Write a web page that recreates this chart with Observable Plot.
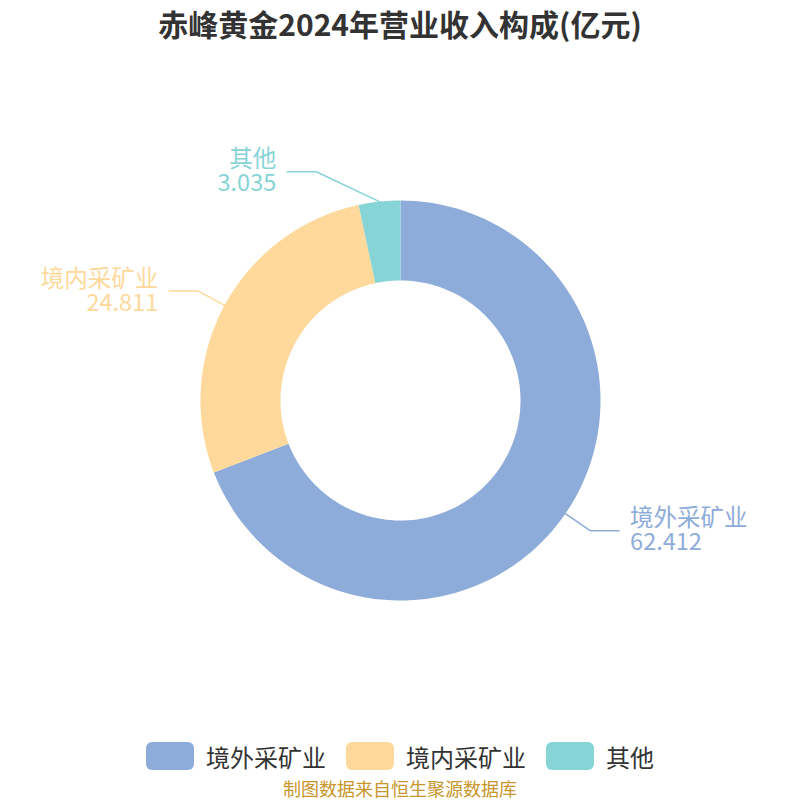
<!DOCTYPE html>
<html>
<head>
<meta charset="utf-8">
<script src="https://cdn.jsdelivr.net/npm/d3@7"></script>
<script src="https://cdn.jsdelivr.net/npm/@observablehq/plot@0.6"></script>
<style>
  html, body { margin: 0; padding: 0; background: #fff; }
  body { width: 800px; height: 800px; overflow: hidden; font-family: "Noto Sans CJK SC", "Noto Sans", sans-serif; }
  #title { height: 48px; line-height: 46px; text-align: center; font-size: 30px; font-weight: bold; color: #333; }
  #legend { display: flex; justify-content: center; align-items: center; height: 36px; font-size: 24px; color: #333; }
  .item { display: flex; align-items: center; margin: 0 10px; }
  .sw { width: 48px; height: 28px; border-radius: 6px; margin-right: 12px; }
  #caption { text-align: center; font-size: 18px; color: #c8962a; line-height: 24px; margin-top: 2px; }
</style>
</head>
<body>
<div id="title">赤峰黄金2024年营业收入构成(亿元)</div>
<div id="chart"></div>
<div id="legend"></div>
<div id="caption">制图数据来自恒生聚源数据库</div>
<script>
const categories = ["境外采矿业", "境内采矿业", "其他"];
const values = [62.412, 24.811, 3.035];
const valueLabels = ["62.412", "24.811", "3.035"];
const colors = ["#8eacda", "#fed99b", "#87d4d7"];

// layout (unit radius = outer radius)
const outerR = 1, innerR = 0.6;
const len1 = 0.15, len2 = 0.145;
const elbowShift = [0, 0, -0.3];

const pie = d3.pie().sort(null).value(d => d.value);
const arcs = pie(categories.map((c, i) => ({name: c, value: values[i]})));

const pt = (a, r) => [r * Math.sin(a), r * Math.cos(a)];
const features = arcs.map(a => {
  const n = 120;
  const ring = [];
  for (let k = 0; k <= n; k++) ring.push(pt(a.startAngle + (a.endAngle - a.startAngle) * k / n, outerR));
  for (let k = n; k >= 0; k--) ring.push(pt(a.startAngle + (a.endAngle - a.startAngle) * k / n, innerR));
  ring.push(ring[0]);
  return {type: "Feature", properties: {name: a.data.name}, geometry: {type: "Polygon", coordinates: [ring]}};
});

const lines = [];
const labels = [];
arcs.forEach((a, i) => {
  const mid = (a.startAngle + a.endAngle) / 2;
  const p0 = pt(mid, outerR);
  const ext = pt(mid, outerR + len1);
  const right = Math.sin(mid) > 0;
  const elbow = [ext[0] + elbowShift[i], ext[1]];
  const end = [elbow[0] + (right ? len2 : -len2), elbow[1]];
  [p0, elbow, end].forEach(p => lines.push({name: a.data.name, x: p[0], y: p[1]}));
  labels.push({name: a.data.name, x: end[0], y: end[1], right, text: a.data.name + "\n" + valueLabels[i]});
});

const plot = Plot.plot({
  width: 800,
  height: 690,
  margin: 0,
  projection: {type: "reflect-y", domain: {type: "MultiPoint", coordinates: [[-2, -1.69], [2, 1.76]]}},
  color: {domain: categories, range: colors},
  marks: [
    Plot.geo(features, {fill: d => d.properties.name}),
    Plot.line(lines, {x: "x", y: "y", z: "name", stroke: "name", strokeWidth: 1.5, curve: "linear"}),
    Plot.text(labels.filter(d => d.right), {x: "x", y: "y", text: "text", fill: "name", textAnchor: "start", dx: 11, fontSize: 23.5, lineHeight: 1.02, lineAnchor: "middle", fontFamily: "Noto Sans CJK SC"}),
    Plot.text(labels.filter(d => !d.right), {x: "x", y: "y", text: "text", fill: "name", textAnchor: "end", dx: -11, fontSize: 23.5, lineHeight: 1.02, lineAnchor: "middle", fontFamily: "Noto Sans CJK SC"})
  ]
});
document.getElementById("chart").appendChild(plot);

const legend = document.getElementById("legend");
categories.forEach((c, i) => {
  const it = document.createElement("div");
  it.className = "item";
  it.innerHTML = `<div class="sw" style="background:${colors[i]}"></div><span>${c}</span>`;
  legend.appendChild(it);
});
</script>
</body>
</html>
